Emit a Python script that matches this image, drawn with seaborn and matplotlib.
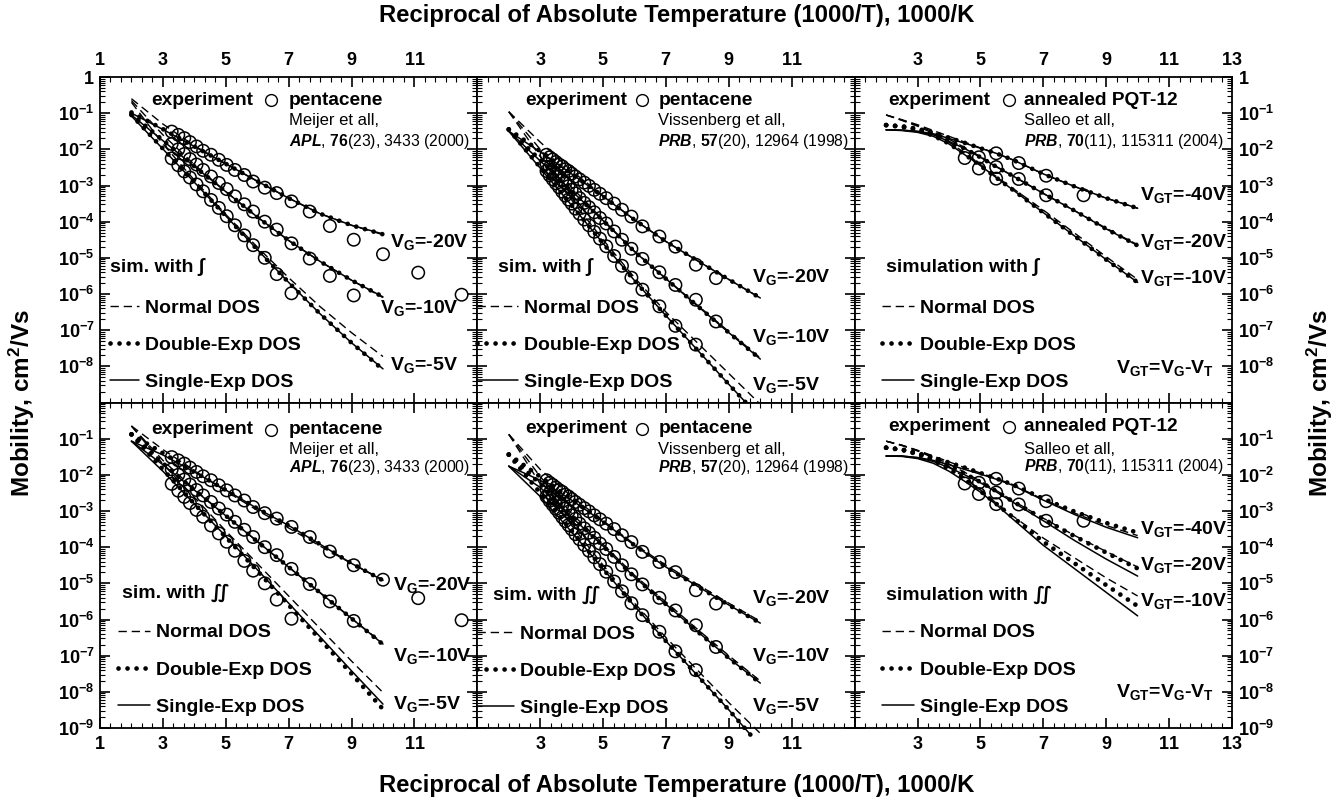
import numpy as np
import matplotlib
matplotlib.use('Agg')
import matplotlib.pyplot as plt
import seaborn as sns
from matplotlib.lines import Line2D
from matplotlib.ticker import FixedLocator, LogLocator, NullFormatter, AutoMinorLocator, FuncFormatter

sns.set_theme(style='ticks')
plt.rcParams['font.family'] = ['Liberation Sans', 'DejaVu Sans']
plt.rcParams['font.weight'] = 'bold'
plt.rcParams['mathtext.fontset'] = 'custom'
plt.rcParams['mathtext.rm'] = 'Liberation Sans'
plt.rcParams['mathtext.bf'] = 'Liberation Sans:bold'
plt.rcParams['mathtext.it'] = 'Liberation Sans:italic'
for k in ('text.color', 'axes.labelcolor', 'xtick.color', 'ytick.color', 'axes.edgecolor'):
    plt.rcParams[k] = 'black'

# ---- data: x = 1000/T, y = log10(mobility, cm2/Vs) ----
sim_x = [2, 3, 4, 5, 6, 7, 8, 9, 10]
sim_x_tail = [2, 3, 4, 5, 6, 7, 8, 9, 9.7]
salleo_x = [2, 2.5, 3, 3.5, 4, 4.5, 5, 5.5, 6, 7, 8, 9, 10]

# Meijer pentacene, experiment
meijer_x = [3.28, 3.49, 3.68, 3.86, 4.07, 4.28, 4.53, 4.78, 5.03, 5.29, 5.59, 5.87,
            6.24, 6.62, 7.09, 7.67, 8.31, 9.07, 10.0, 11.12, 12.5]
meijer_20 = [-1.51, -1.60, -1.69, -1.80, -1.92, -2.04, -2.15, -2.29, -2.43, -2.57, -2.71, -2.89,
             -3.06, -3.21, -3.44, -3.72, -4.12, -4.50, -4.90, -5.41, -6.02]
meijer_10 = [-1.85, -2.00, -2.13, -2.27, -2.42, -2.57, -2.75, -2.93, -3.10, -3.30, -3.52, -3.72,
             -4.00, -4.22, -4.60, -5.02, -5.50, -6.04]
meijer_5 = [-2.25, -2.44, -2.61, -2.78, -2.97, -3.16, -3.40, -3.62, -3.85, -4.10, -4.38, -4.65,
            -5.00, -5.45, -5.98]

# Meijer, simulation with single integral
m1_20_norm = [-0.60, -1.30, -1.90, -2.40, -2.88, -3.35, -3.78, -4.10, -4.36]
m1_20_dexp = [-0.98, -1.44, -1.92, -2.40, -2.88, -3.35, -3.78, -4.10, -4.35]
m1_20_sexp = [-1.00, -1.45, -1.92, -2.40, -2.88, -3.35, -3.78, -4.10, -4.34]
m1_10_norm = [-0.65, -1.60, -2.42, -3.17, -3.87, -4.52, -5.10, -5.62, -6.10]
m1_10_dexp = [-1.03, -1.75, -2.47, -3.17, -3.87, -4.52, -5.10, -5.62, -6.08]
m1_10_sexp = [-1.05, -1.76, -2.47, -3.17, -3.87, -4.52, -5.10, -5.62, -6.08]
m1_5_norm = [-0.70, -1.85, -2.85, -3.80, -4.70, -5.55, -6.35, -7.07, -7.73]
m1_5_dexp = [-1.05, -1.98, -2.91, -3.84, -4.77, -5.68, -6.55, -7.35, -8.09]
m1_5_sexp = [-1.08, -1.99, -2.91, -3.84, -4.77, -5.68, -6.55, -7.35, -8.07]

# Meijer, simulation with double integral
m2_20_norm = [-0.65, -1.30, -1.88, -2.45, -2.98, -3.47, -3.97, -4.45, -4.90]
m2_20_dexp = [-0.88, -1.40, -1.92, -2.42, -2.93, -3.40, -3.92, -4.45, -4.92]
m2_20_sexp = [-1.07, -1.45, -1.92, -2.42, -2.93, -3.40, -3.92, -4.45, -4.92]
m2_10_norm = [-0.65, -1.60, -2.40, -3.13, -3.84, -4.55, -5.26, -5.97, -6.66]
m2_10_dexp = [-0.88, -1.68, -2.42, -3.13, -3.84, -4.55, -5.26, -5.97, -6.69]
m2_10_sexp = [-1.07, -1.72, -2.42, -3.13, -3.84, -4.55, -5.26, -5.97, -6.68]
m2_5_norm = [-0.65, -1.70, -2.62, -3.55, -4.45, -5.35, -6.25, -7.15, -8.02]
m2_5_dexp = [-0.88, -1.85, -2.80, -3.72, -4.65, -5.60, -6.55, -7.50, -8.48]
m2_5_sexp = [-1.07, -1.90, -2.80, -3.70, -4.62, -5.55, -6.48, -7.42, -8.34]

# Vissenberg pentacene, experiment
vis_x = [3.2, 3.3, 3.4, 3.5, 3.6, 3.7, 3.8, 3.9, 4.0, 4.12, 4.25, 4.4, 4.55, 4.72, 4.9, 5.1,
         5.35, 5.6, 5.9, 6.25, 6.79, 7.3, 7.95, 8.59]
vis_20 = [-2.15, -2.22, -2.28, -2.35, -2.42, -2.47, -2.55, -2.60, -2.67, -2.75, -2.83, -2.92,
          -3.01, -3.12, -3.23, -3.35, -3.50, -3.67, -3.86, -4.13, -4.41, -4.69, -5.19, -5.56]
vis_10 = [-2.40, -2.50, -2.60, -2.68, -2.75, -2.85, -2.93, -3.02, -3.12, -3.22, -3.35, -3.48,
          -3.60, -3.74, -3.90, -4.05, -4.27, -4.50, -4.75, -5.03, -5.40, -5.75, -6.16, -6.76]
vis_5 = [-2.60, -2.72, -2.83, -2.94, -3.05, -3.17, -3.28, -3.39, -3.50, -3.64, -3.78, -3.94,
         -4.10, -4.28, -4.47, -4.68, -4.95, -5.22, -5.55, -5.88, -6.34, -6.88, -7.40]

# Vissenberg, single integral
v1_20_norm = [-0.96, -1.80, -2.60, -3.28, -3.95, -4.55, -5.08, -5.60, -6.11]
v1_20_dexp = [-1.45, -2.05, -2.68, -3.30, -3.95, -4.55, -5.08, -5.60, -6.11]
v1_20_sexp = [-1.50, -2.07, -2.68, -3.30, -3.95, -4.55, -5.08, -5.60, -6.11]
v1_10_norm = [-0.96, -2.00, -3.05, -3.95, -4.82, -5.57, -6.31, -7.04, -7.77]
v1_10_dexp = [-1.45, -2.30, -3.15, -3.97, -4.83, -5.58, -6.33, -7.07, -7.80]
v1_10_sexp = [-1.50, -2.32, -3.15, -3.97, -4.83, -5.58, -6.33, -7.07, -7.80]
v1_5_norm = [-0.96, -2.20, -3.40, -4.50, -5.55, -6.50, -7.35, -8.20, -9.05]
v1_5_dexp = [-1.45, -2.50, -3.55, -4.60, -5.63, -6.60, -7.55, -8.50, -9.15]
v1_5_sexp = [-1.50, -2.52, -3.55, -4.60, -5.63, -6.60, -7.55, -8.50, -9.15]

# Vissenberg, double integral
v2_20_norm = [-0.88, -1.85, -2.60, -3.27, -3.92, -4.50, -5.03, -5.55, -6.05]
v2_20_dexp = [-1.44, -2.05, -2.68, -3.30, -3.95, -4.55, -5.08, -5.60, -6.10]
v2_20_sexp = [-1.76, -2.15, -2.70, -3.30, -3.95, -4.55, -5.08, -5.60, -6.10]
v2_10_norm = [-0.88, -2.05, -3.07, -3.92, -4.78, -5.52, -6.27, -7.00, -7.70]
v2_10_dexp = [-1.44, -2.25, -3.15, -3.97, -4.83, -5.58, -6.33, -7.07, -7.76]
v2_10_sexp = [-1.76, -2.35, -3.17, -3.97, -4.83, -5.58, -6.33, -7.07, -7.76]
v2_5_norm = [-0.88, -2.25, -3.40, -4.50, -5.55, -6.50, -7.40, -8.30, -9.15]
v2_5_dexp = [-1.44, -2.50, -3.55, -4.60, -5.63, -6.60, -7.55, -8.50, -9.20]
v2_5_sexp = [-1.76, -2.60, -3.58, -4.60, -5.63, -6.60, -7.55, -8.50, -9.20]

# Salleo annealed PQT-12, experiment
sal_x_40 = [5.50, 6.22, 7.09, 8.28]
sal_40 = [-2.11, -2.38, -2.73, -3.27]
sal_x_20 = [4.95, 5.50, 6.22, 7.09]
sal_20 = [-2.22, -2.49, -2.82, -3.27]
sal_x_10 = [4.50, 4.95, 5.50]
sal_10 = [-2.24, -2.53, -2.81]

# Salleo, single integral
s1_40_norm = [-1.05, -1.18, -1.32, -1.48, -1.64, -1.80, -1.96, -2.11, -2.28, -2.68, -3.03, -3.35, -3.63]
s1_40_dexp = [-1.33, -1.36, -1.43, -1.54, -1.68, -1.82, -1.97, -2.11, -2.28, -2.68, -3.03, -3.35, -3.63]
s1_40_sexp = [-1.46, -1.47, -1.50, -1.57, -1.70, -1.83, -1.97, -2.11, -2.28, -2.68, -3.03, -3.35, -3.63]
s1_20_norm = [-1.05, -1.19, -1.34, -1.52, -1.72, -1.95, -2.20, -2.47, -2.72, -3.22, -3.70, -4.18, -4.64]
s1_20_dexp = [-1.33, -1.37, -1.45, -1.58, -1.77, -1.98, -2.22, -2.48, -2.72, -3.22, -3.70, -4.20, -4.66]
s1_20_sexp = [-1.46, -1.47, -1.51, -1.60, -1.78, -1.98, -2.22, -2.48, -2.72, -3.22, -3.70, -4.20, -4.66]
s1_10_norm = [-1.05, -1.20, -1.36, -1.56, -1.80, -2.10, -2.42, -2.75, -3.06, -3.68, -4.32, -4.97, -5.60]
s1_10_dexp = [-1.33, -1.38, -1.47, -1.62, -1.84, -2.14, -2.45, -2.78, -3.10, -3.75, -4.40, -5.05, -5.68]
s1_10_sexp = [-1.46, -1.48, -1.53, -1.64, -1.85, -2.15, -2.45, -2.78, -3.10, -3.75, -4.40, -5.05, -5.68]

# Salleo, double integral
s2_40_norm = [-1.07, -1.18, -1.32, -1.48, -1.64, -1.80, -1.95, -2.10, -2.26, -2.68, -3.06, -3.40, -3.68]
s2_40_dexp = [-1.25, -1.30, -1.40, -1.52, -1.66, -1.80, -1.95, -2.10, -2.26, -2.66, -3.02, -3.33, -3.60]
s2_40_sexp = [-1.48, -1.48, -1.52, -1.60, -1.72, -1.85, -1.98, -2.12, -2.28, -2.70, -3.10, -3.45, -3.74]
s2_20_norm = [-1.07, -1.18, -1.33, -1.50, -1.70, -1.93, -2.18, -2.43, -2.70, -3.20, -3.68, -4.12, -4.55]
s2_20_dexp = [-1.25, -1.30, -1.41, -1.56, -1.75, -1.97, -2.20, -2.45, -2.72, -3.22, -3.70, -4.15, -4.59]
s2_20_sexp = [-1.48, -1.48, -1.53, -1.63, -1.80, -2.00, -2.22, -2.47, -2.74, -3.27, -3.82, -4.33, -4.80]
s2_10_norm = [-1.07, -1.19, -1.34, -1.53, -1.77, -2.08, -2.42, -2.78, -3.12, -3.75, -4.30, -4.85, -5.35]
s2_10_dexp = [-1.25, -1.31, -1.43, -1.60, -1.83, -2.12, -2.45, -2.80, -3.15, -3.85, -4.45, -5.05, -5.63]
s2_10_sexp = [-1.48, -1.49, -1.55, -1.68, -1.90, -2.18, -2.48, -2.82, -3.20, -3.95, -4.60, -5.25, -5.90]

STY = {
    'norm': dict(linestyle=(0, (6, 3.5)), linewidth=1.0),
    'dexp': dict(linestyle=(0, (0.01, 1.9)), linewidth=3.4, dash_capstyle='round'),
    'sexp': dict(linestyle='-', linewidth=1.1),
}


def sim(ax, xs, ys, kind):
    sns.lineplot(x=xs, y=np.power(10.0, ys), ax=ax, color='black', estimator=None,
                 sort=False, errorbar=None, clip_on=False, **STY[kind])


def exp(ax, xs, ys):
    sns.scatterplot(x=xs[:len(ys)], y=np.power(10.0, ys), ax=ax, marker='o', s=80,
                    facecolor='none', edgecolor='black', linewidth=1.1, zorder=3, legend=False)


fig, axes = plt.subplots(2, 3, figsize=(13.43, 8.06), dpi=100)
fig.subplots_adjust(left=100 / 1343, right=1232 / 1343, top=1 - 77 / 806,
                    bottom=1 - 728 / 806, wspace=0, hspace=0)

# simulation curves per panel
sims = {
    (0, 0): [(sim_x, m1_20_dexp, 'dexp'), (sim_x, m1_20_sexp, 'sexp'), (sim_x, m1_20_norm, 'norm'),
             (sim_x, m1_10_dexp, 'dexp'), (sim_x, m1_10_sexp, 'sexp'), (sim_x, m1_10_norm, 'norm'),
             (sim_x, m1_5_dexp, 'dexp'), (sim_x, m1_5_sexp, 'sexp'), (sim_x, m1_5_norm, 'norm')],
    (1, 0): [(sim_x, m2_20_dexp, 'dexp'), (sim_x, m2_20_sexp, 'sexp'), (sim_x, m2_20_norm, 'norm'),
             (sim_x, m2_10_dexp, 'dexp'), (sim_x, m2_10_sexp, 'sexp'), (sim_x, m2_10_norm, 'norm'),
             (sim_x, m2_5_dexp, 'dexp'), (sim_x, m2_5_sexp, 'sexp'), (sim_x, m2_5_norm, 'norm')],
    (0, 1): [(sim_x, v1_20_dexp, 'dexp'), (sim_x, v1_20_sexp, 'sexp'), (sim_x, v1_20_norm, 'norm'),
             (sim_x, v1_10_dexp, 'dexp'), (sim_x, v1_10_sexp, 'sexp'), (sim_x, v1_10_norm, 'norm'),
             (sim_x_tail, v1_5_dexp, 'dexp'), (sim_x_tail, v1_5_sexp, 'sexp'), (sim_x, v1_5_norm, 'norm')],
    (1, 1): [(sim_x, v2_20_dexp, 'dexp'), (sim_x, v2_20_sexp, 'sexp'), (sim_x, v2_20_norm, 'norm'),
             (sim_x, v2_10_dexp, 'dexp'), (sim_x, v2_10_sexp, 'sexp'), (sim_x, v2_10_norm, 'norm'),
             (sim_x_tail, v2_5_dexp, 'dexp'), (sim_x_tail, v2_5_sexp, 'sexp'), (sim_x, v2_5_norm, 'norm')],
    (0, 2): [(salleo_x, s1_40_dexp, 'dexp'), (salleo_x, s1_40_sexp, 'sexp'), (salleo_x, s1_40_norm, 'norm'),
             (salleo_x, s1_20_dexp, 'dexp'), (salleo_x, s1_20_sexp, 'sexp'), (salleo_x, s1_20_norm, 'norm'),
             (salleo_x, s1_10_dexp, 'dexp'), (salleo_x, s1_10_sexp, 'sexp'), (salleo_x, s1_10_norm, 'norm')],
    (1, 2): [(salleo_x, s2_40_dexp, 'dexp'), (salleo_x, s2_40_sexp, 'sexp'), (salleo_x, s2_40_norm, 'norm'),
             (salleo_x, s2_20_dexp, 'dexp'), (salleo_x, s2_20_sexp, 'sexp'), (salleo_x, s2_20_norm, 'norm'),
             (salleo_x, s2_10_dexp, 'dexp'), (salleo_x, s2_10_sexp, 'sexp'), (salleo_x, s2_10_norm, 'norm')],
}
exps = {
    0: [(meijer_x, meijer_20), (meijer_x, meijer_10), (meijer_x, meijer_5)],
    1: [(vis_x, vis_20), (vis_x, vis_10), (vis_x, vis_5)],
    2: [(sal_x_40, sal_40), (sal_x_20, sal_20), (sal_x_10, sal_10)],
}
material = {0: 'pentacene', 1: 'pentacene', 2: 'annealed PQT-12'}
source = {0: 'Meijer et all,', 1: 'Vissenberg et all,', 2: 'Salleo et all,'}
cite = {0: r'$\mathit{APL}$, $\mathbf{76}$(23), 3433 (2000)',
        1: r'$\mathit{PRB}$, $\mathbf{57}$(20), 12964 (1998)',
        2: r'$\mathit{PRB}$, $\mathbf{70}$(11), 115311 (2004)'}
vlabels = {0: ['-20V', '-10V', '-5V'], 1: ['-20V', '-10V', '-5V'], 2: ['-40V', '-20V', '-10V']}

# layout in axes fractions: header y, experiment x, circle x, material x, source y, cite y,
# sim label (x, y), legend (x, top, handlelength), V-label positions
layout = {
    (0, 0): dict(hy=.929, ex=.137, cx=.452, mx=.501, sy=.865, cy=.801, sim=(.0265, .417),
                 leg=(.0265, .317, 1.5), vl=[(.768, .494), (.742, .289), (.768, .115)]),
    (0, 1): dict(hy=.929, ex=.127, cx=.437, mx=.48, sy=.865, cy=.801, sim=(.056, .417),
                 leg=(.0, .317, 2.1), vl=[(.729, .387), (.729, .202), (.729, .054)]),
    (0, 2): dict(hy=.929, ex=.088, cx=.409, mx=.45, sy=.865, cy=.801, sim=(.082, .417),
                 leg=(.073, .317, 1.65), vl=[(.755, .637), (.755, .494), (.755, .382)], eq=(.693, .105)),
    (1, 0): dict(hy=.917, ex=.137, cx=.452, mx=.501, sy=.856, cy=.80, sim=(.057, .415),
                 leg=(.048, .32, 1.65), vl=[(.777, .439), (.777, .222), (.777, .073)]),
    (1, 1): dict(hy=.919, ex=.127, cx=.437, mx=.48, sy=.856, cy=.80, sim=(.042, .41),
                 leg=(.0, .316, 1.9), vl=[(.729, .40), (.729, .221), (.729, .067)]),
    (1, 2): dict(hy=.925, ex=.088, cx=.409, mx=.45, sy=.856, cy=.804, sim=(.082, .41),
                 leg=(.073, .32, 1.65), vl=[(.755, .61), (.755, .502), (.755, .39)], eq=(.693, .11)),
}

x_allowed = {0: [1, 3, 5, 7, 9, 11], 1: [3, 5, 7, 9, 11], 2: [3, 5, 7, 9, 11, 13]}
y_allowed = {0: list(range(0, -9, -1)), 1: list(range(-1, -10, -1))}


def fmt_x(allowed):
    def f(v, pos):
        k = int(round(v))
        return r'$\mathbf{%d}$' % k if abs(v - k) < 1e-6 and k in allowed else ''
    return FuncFormatter(f)


def fmt_y(allowed):
    def f(v, pos):
        e = int(round(np.log10(v)))
        if e not in allowed:
            return ''
        return r'$\mathbf{1}$' if e == 0 else r'$\mathbf{10^{%d}}$' % e
    return FuncFormatter(f)


handles = [Line2D([], [], color='black', **STY[k]) for k in ('norm', 'dexp', 'sexp')]
hlabels = ['Normal DOS', 'Double-Exp DOS', 'Single-Exp DOS']

for r in range(2):
    for c in range(3):
        ax = axes[r, c]
        L = layout[(r, c)]
        for xs, ys, kind in sims[(r, c)]:
            sim(ax, xs, ys, kind)
        for xs, ys in exps[c]:
            exp(ax, xs, ys)

        ax.set_yscale('log')
        ax.set_xlim(1, 13)
        ax.set_ylim(1e-9, 1)
        ax.set_xlabel('')
        ax.set_ylabel('')
        ax.xaxis.set_major_locator(FixedLocator([1, 3, 5, 7, 9, 11, 13]))
        ax.xaxis.set_minor_locator(AutoMinorLocator(6))
        ax.yaxis.set_major_locator(FixedLocator(10.0 ** np.arange(-9, 1)))
        ax.yaxis.set_minor_locator(LogLocator(base=10, subs=np.arange(2, 10), numticks=20))
        ax.xaxis.set_major_formatter(fmt_x(x_allowed[c]))
        ax.yaxis.set_major_formatter(fmt_y(y_allowed[r]))
        ax.xaxis.set_minor_formatter(NullFormatter())
        ax.yaxis.set_minor_formatter(NullFormatter())
        ax.tick_params(which='both', direction='in', top=True, bottom=True, left=True, right=True,
                       color='black', labelsize=13, labelcolor='black')
        ax.tick_params(which='major', length=7, width=1.2)
        ax.tick_params(which='minor', length=3.5, width=0.8)
        ax.tick_params(axis='x', pad=6, labeltop=(r == 0), labelbottom=(r == 1))
        ax.tick_params(axis='y', pad=4, labelleft=(c == 0), labelright=(c == 2))
        for sp in ax.spines.values():
            sp.set_linewidth(1.3)
            sp.set_color('black')
        ax.set_facecolor('white')

        # header
        ax.text(L['ex'], L['hy'], 'experiment', transform=ax.transAxes, fontsize=13.8,
                fontweight='bold', ha='left', va='center')
        ax.plot([L['cx']], [L['hy']], 'o', mfc='none', mec='black', ms=8.5, mew=1.0,
                transform=ax.transAxes)
        ax.text(L['mx'], L['hy'], material[c], transform=ax.transAxes, fontsize=13.8,
                fontweight='bold', ha='left', va='center')
        ax.text(L['mx'], L['sy'], source[c], transform=ax.transAxes, fontsize=12,
                fontweight='normal', ha='left', va='center')
        ax.text(L['mx'], L['cy'], cite[c], transform=ax.transAxes, fontsize=11.3,
                fontweight='normal', ha='left', va='center')

        integ = '\u222b' if r == 0 else '\u222c'
        sim_word = 'simulation' if c == 2 else 'sim.'
        ax.text(L['sim'][0], L['sim'][1], f'{sim_word} with {integ}', transform=ax.transAxes,
                fontsize=14, fontweight='bold', ha='left', va='center')

        lx, ly, hl = L['leg']
        ax.legend(handles, hlabels, loc='upper left', bbox_to_anchor=(lx, ly), frameon=False,
                  borderpad=0, borderaxespad=0, handlelength=hl, handletextpad=0.3,
                  labelspacing=1.0, prop={'weight': 'bold', 'size': 14}, labelcolor='black')

        sub = 'GT' if c == 2 else 'G'
        for (vx, vy), lab in zip(L['vl'], vlabels[c]):
            ax.text(vx, vy, r'$\mathbf{V_{%s}}$=%s' % (sub, lab), transform=ax.transAxes,
                    fontsize=14, fontweight='bold', ha='left', va='center')
        if 'eq' in L:
            ax.text(L['eq'][0], L['eq'][1], r'$\mathbf{V_{GT}}$=$\mathbf{V_{G}}$-$\mathbf{V_{T}}$',
                    transform=ax.transAxes, fontsize=14, fontweight='bold', ha='left', va='center')

xl = 'Reciprocal of Absolute Temperature (1000/T), 1000/K'
fig.text(0.504, 0.981, xl, ha='center', va='center', fontsize=17.2, fontweight='bold')
fig.text(0.504, 0.026, xl, ha='center', va='center', fontsize=17.2, fontweight='bold')
yl = r'Mobility, cm$\mathbf{^2}$/Vs'
fig.text(0.0164, 0.5, yl, ha='center', va='center', rotation=90, fontsize=17.5, fontweight='bold')
fig.text(0.983, 0.5, yl, ha='center', va='center', rotation=90, fontsize=17.5, fontweight='bold')

fig.savefig('out.png', dpi=100, facecolor='white')
